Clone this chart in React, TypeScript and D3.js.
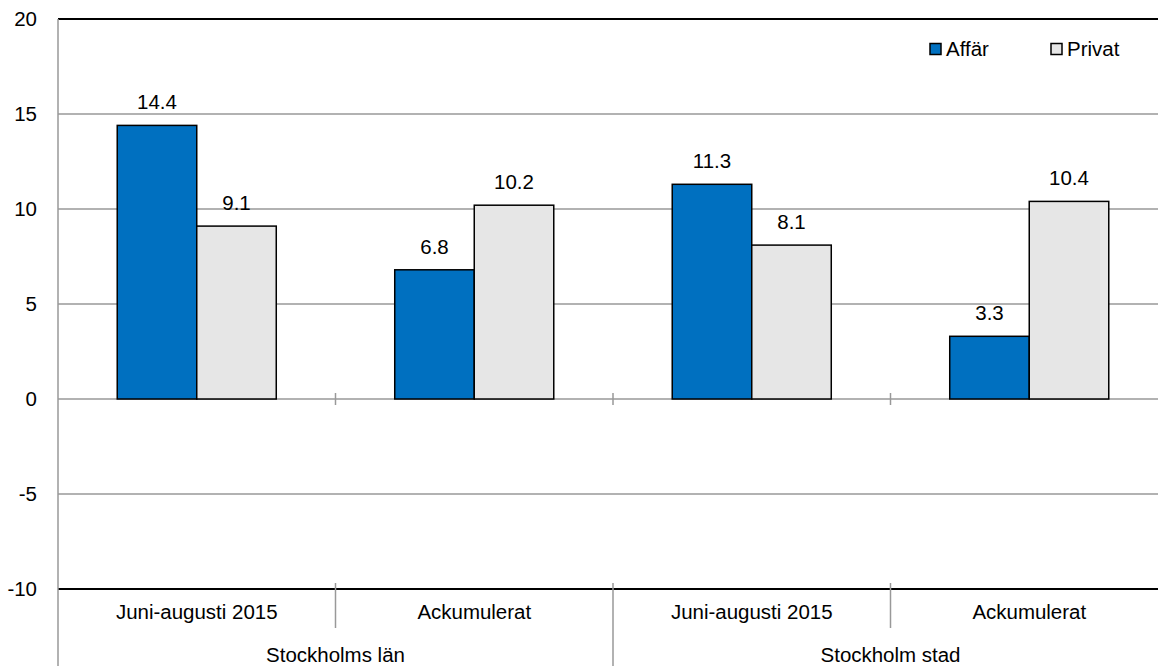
import React from 'react';
import { scaleBand, scaleLinear } from 'd3';

const categories = ['Juni-augusti 2015', 'Ackumulerat', 'Juni-augusti 2015', 'Ackumulerat'];
const groups = ['Stockholms län', 'Stockholm stad'];
const series = ['Affär', 'Privat'];
const affar = [14.4, 6.8, 11.3, 3.3];
const privat = [9.1, 10.2, 8.1, 10.4];
const yTicks = [20, 15, 10, 5, 0, -5, -10];

const colors = { 'Affär': '#0070C0', 'Privat': '#E6E6E6' };
const font = 'Arial, "Liberation Sans", sans-serif';

// text in the source is slightly stretched horizontally
const Label = ({ x, y, anchor = 'middle', children }) => (
  <text
    transform={`translate(${x},${y}) scale(1.05,1)`}
    fontSize={19.5}
    textAnchor={anchor}
    fill="#000"
  >
    {children}
  </text>
);

const App = () => {
  const width = 1158;
  const height = 666;
  const margin = { top: 19, left: 58, right: -10, bottom: 77 };

  const xScale = scaleBand()
    .domain(categories.map((c, i) => String(i)))
    .range([margin.left, width - margin.right]);
  const bw = xScale.bandwidth();
  const inner = scaleBand().domain(series).range([0, bw]).paddingInner(0).paddingOuter(0.745);
  const yScale = scaleLinear().domain([-10, 20]).range([height - margin.bottom, margin.top]);

  const values = { 'Affär': affar, 'Privat': privat };
  const y0 = yScale(0);
  const yBottom = yScale(-10);

  return (
    <svg width={width} height={height} style={{ position: 'absolute', left: 0, top: 0 }} fontFamily={font}>
      <rect x={0} y={0} width={width} height={height} fill="white" />
      {yTicks.map(t => (
        <g key={t}>
          <line
            x1={margin.left}
            x2={width}
            y1={yScale(t)}
            y2={yScale(t)}
            stroke={t === 20 || t === -10 ? '#000' : '#999'}
            strokeWidth={t === 20 || t === -10 ? 2 : 1.5}
          />
          <Label x={37} y={yScale(t) + 7} anchor="end">{t}</Label>
        </g>
      ))}
      <line x1={margin.left} x2={margin.left} y1={margin.top} y2={height} stroke="#999" strokeWidth={1.5} />
      {categories.map((c, i) => {
        const x = xScale(String(i)) + bw;
        if (i === categories.length - 1) return null;
        return (
          <g key={'t' + i}>
            <line x1={x} x2={x} y1={y0 - 6} y2={y0 + 6} stroke="#999" strokeWidth={1.5} />
            <line x1={x} x2={x} y1={yBottom - 6} y2={i % 2 === 1 ? height : yBottom + 39} stroke="#999" strokeWidth={1.5} />
          </g>
        );
      })}
      {categories.map((c, i) => (
        <g key={'c' + i}>
          {series.map(s => {
            const v = values[s][i];
            const x = xScale(String(i)) + inner(s);
            const y = yScale(v);
            return (
              <g key={s}>
                <rect
                  x={x}
                  y={y}
                  width={inner.bandwidth()}
                  height={y0 - y}
                  fill={colors[s]}
                  stroke="#000"
                  strokeWidth={1.5}
                />
                <Label x={x + inner.bandwidth() / 2} y={y - 16}>{v.toFixed(1)}</Label>
              </g>
            );
          })}
          <Label x={xScale(String(i)) + bw / 2} y={619}>{c}</Label>
        </g>
      ))}
      {groups.map((g, i) => {
        const x = xScale(String(i * 2)) + bw;
        return <Label key={g} x={x} y={662}>{g}</Label>;
      })}
      {series.map((s, i) => {
        const lx = 930 + i * 121;
        return (
          <g key={s}>
            <rect x={lx} y={43.5} width={11} height={11} fill={colors[s]} stroke="#000" strokeWidth={1.5} />
            <Label x={lx + 16} y={56} anchor="start">{s}</Label>
          </g>
        );
      })}
    </svg>
  );
};

export default App;
